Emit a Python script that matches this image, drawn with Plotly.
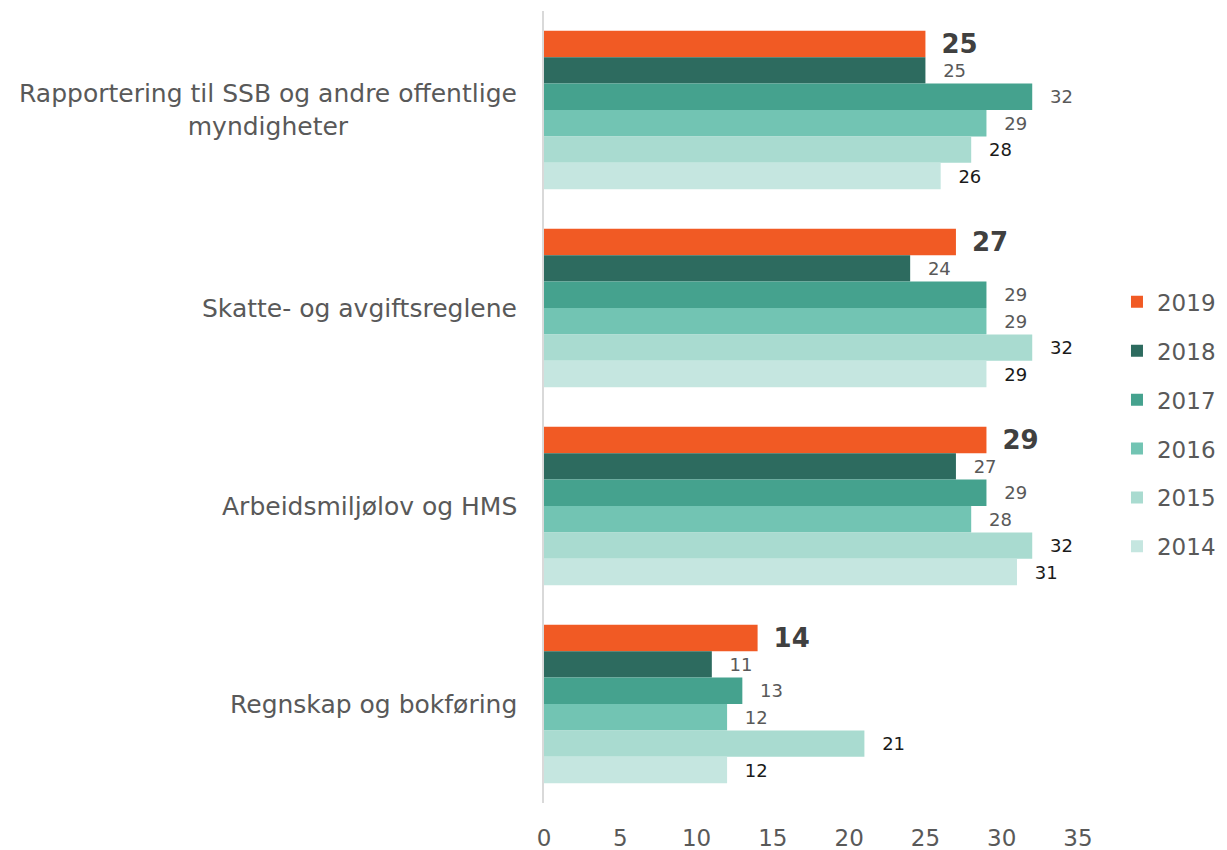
import plotly.graph_objects as go

categories = ["Rapportering til SSB og andre offentlige<br>myndigheter",
              "Skatte- og avgiftsreglene",
              "Arbeidsmiljølov og HMS",
              "Regnskap og bokføring"]
years = ["2019", "2018", "2017", "2016", "2015", "2014"]
v2019 = [25, 27, 29, 14]
v2018 = [25, 24, 27, 11]
v2017 = [32, 29, 29, 13]
v2016 = [29, 29, 28, 12]
v2015 = [28, 32, 32, 21]
v2014 = [26, 29, 31, 12]
series = [v2019, v2018, v2017, v2016, v2015, v2014]
colors = ["#F15A24", "#2D6B5F", "#45A28E", "#72C4B3", "#A9DBD0", "#C5E6E0"]
label_colors = ["#404040", "#595959", "#595959", "#595959", "#1a1a1a", "#1a1a1a"]
x_ticks = [0, 5, 10, 15, 20, 25, 30, 35]

FONT = "DejaVu Sans"
fig = go.Figure()
for i, (yr, vals) in enumerate(zip(years, series)):
    first = i == 0
    fig.add_trace(go.Bar(
        name=yr, y=categories, x=vals, orientation="h",
        marker=dict(color=colors[i], line=dict(width=0)),
        text=[str(v) for v in vals],
        texttemplate=("\u2002%{text}" if first else "\u2002\u00a0%{text}"),
        textposition="outside", cliponaxis=False, constraintext="none",
        textfont=dict(family=FONT, size=26 if first else 18,
                      color=label_colors[i],
                      weight="bold" if first else "normal"),
        legendgroup=yr,
    ))

for c in categories:
    fig.add_annotation(x=0, xref="paper", y=c, yref="y", text=c,
                       xanchor="right", xshift=-25, align="center",
                       showarrow=False,
                       font=dict(family=FONT, size=25, color="#595959"))

fig.update_layout(
    width=1227, height=850,
    margin=dict(l=536, r=157, t=3, b=55, autoexpand=False),
    paper_bgcolor="white", plot_bgcolor="white",
    barmode="group", bargap=0.2, bargroupgap=0,
    font=dict(family=FONT, color="#595959"),
    legend=dict(x=1.073, xanchor="left", y=0.478, yanchor="middle",
                font=dict(family=FONT, size=23, color="#595959"),
                tracegroupgap=16, itemwidth=30),
    showlegend=True,
)
fig.update_xaxes(range=[0, 35], tickvals=x_ticks, showgrid=False,
                 zeroline=False, showline=False, automargin=False,
                 tickfont=dict(family=FONT, size=23, color="#595959"),
                 ticks="outside", ticklen=14, tickcolor="rgba(0,0,0,0)")
fig.update_yaxes(autorange="reversed", showticklabels=False, showgrid=False,
                 showline=True, linecolor="#D9D9D9", linewidth=2,
                 zeroline=False, automargin=False)
fig.write_html("out.html")
